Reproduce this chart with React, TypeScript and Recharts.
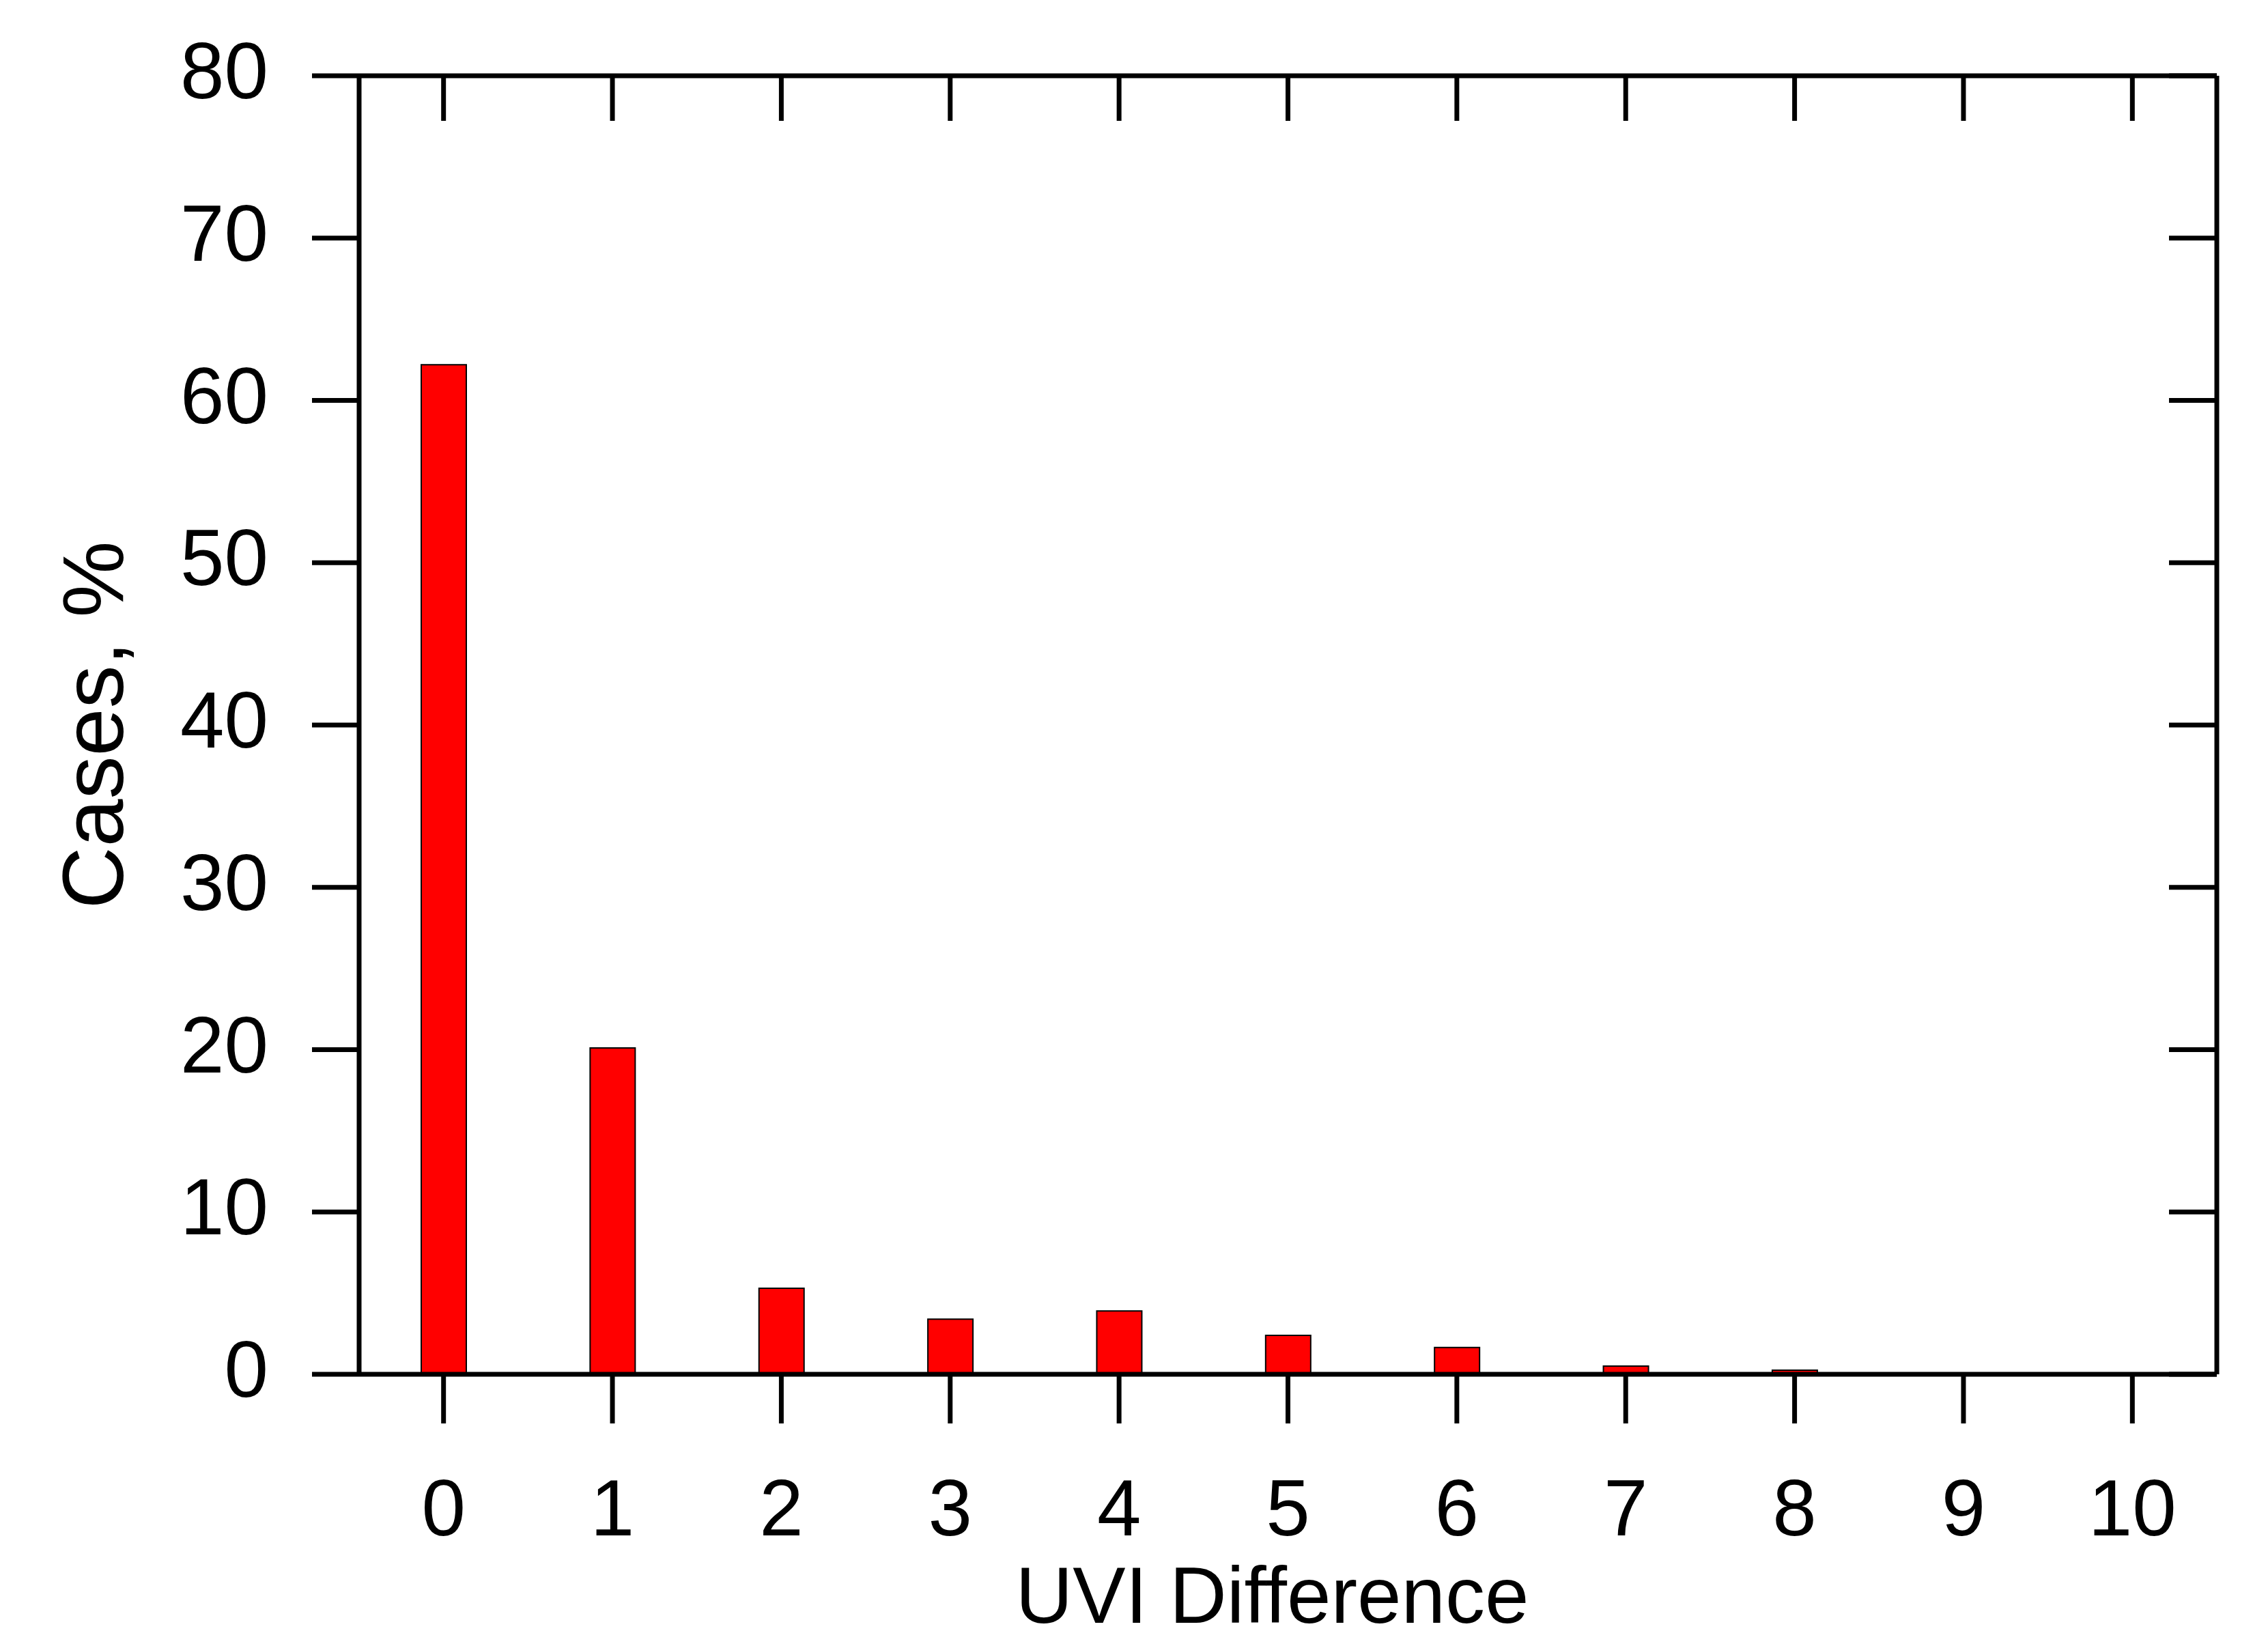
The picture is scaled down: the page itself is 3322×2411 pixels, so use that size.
import React from 'react';
import { BarChart, Bar, XAxis, YAxis } from 'recharts';

// UVI difference classes (x axis categories)
const uviDiff = ['0', '1', '2', '3', '4', '5', '6', '7', '8', '9', '10'];
// share of cases, %
const casesPct = [62.2, 20.1, 5.3, 3.4, 3.9, 2.4, 1.65, 0.5, 0.25, 0, 0];
const yTicks = [0, 10, 20, 30, 40, 50, 60, 70, 80];

const data = uviDiff.map((d, i) => ({ uvi: d, cases: casesPct[i] }));

const FONT = '"Liberation Sans", Arial, sans-serif';
const LW = 7;
const blank = () => '';

// make sure axis frame and tick marks come out heavy like the original
const css = `
.recharts-cartesian-axis-line,
.recharts-cartesian-axis-tick-line { stroke: #000; stroke-width: ${LW}px; }
`;

export default function App() {
  return (
    <div style={{ position: 'absolute', left: 0, top: 0, width: 3322, height: 2411, background: '#fff' }}>
      <style>{css}</style>
      <BarChart
        width={3322}
        height={2411}
        data={data}
        margin={{ top: 111, right: 75, left: 0, bottom: 0 }}
        barCategoryGap={0}
      >
        <XAxis
          xAxisId="b"
          dataKey="uvi"
          orientation="bottom"
          height={398}
          interval={0}
          stroke="#000"
          strokeWidth={LW}
          tickSize={72}
          tickMargin={82}
          tick={{ fill: '#000', stroke: 'none', fontSize: 116, fontFamily: FONT }}
          label={{
            value: 'UVI Difference',
            position: 'insideBottom',
            offset: 34,
            dx: -23,
            fill: '#000',
            stroke: 'none',
            fontSize: 116,
            fontFamily: FONT,
          }}
        />
        <XAxis
          xAxisId="t"
          dataKey="uvi"
          orientation="top"
          mirror
          interval={0}
          stroke="#000"
          strokeWidth={LW}
          tickSize={66}
          tickFormatter={blank}
          tick={{ fill: 'none', stroke: 'none' }}
        />
        <YAxis
          yAxisId="l"
          orientation="left"
          width={526}
          domain={[0, 80]}
          ticks={yTicks}
          interval={0}
          stroke="#000"
          strokeWidth={LW}
          tickSize={69}
          tickMargin={64}
          tick={{ fill: '#000', stroke: 'none', fontSize: 116, fontFamily: FONT, dy: -8 }}
          label={{
            value: 'Cases, %',
            angle: -90,
            position: 'insideLeft',
            offset: 135,
            fill: '#000',
            stroke: 'none',
            fontSize: 126,
            fontFamily: FONT,
            style: { textAnchor: 'middle' },
          }}
        />
        <YAxis
          yAxisId="r"
          orientation="right"
          mirror
          type="number"
          domain={[0, 80]}
          allowDataOverflow
          ticks={yTicks}
          interval={0}
          stroke="#000"
          strokeWidth={LW}
          tickSize={70}
          tickFormatter={blank}
          tick={{ fill: 'none', stroke: 'none' }}
        />
        <Bar
          xAxisId="b"
          yAxisId="l"
          dataKey="cases"
          barSize={66}
          fill="#ff0000"
          stroke="#000"
          strokeWidth={2}
          isAnimationActive={false}
        />
      </BarChart>
    </div>
  );
}
